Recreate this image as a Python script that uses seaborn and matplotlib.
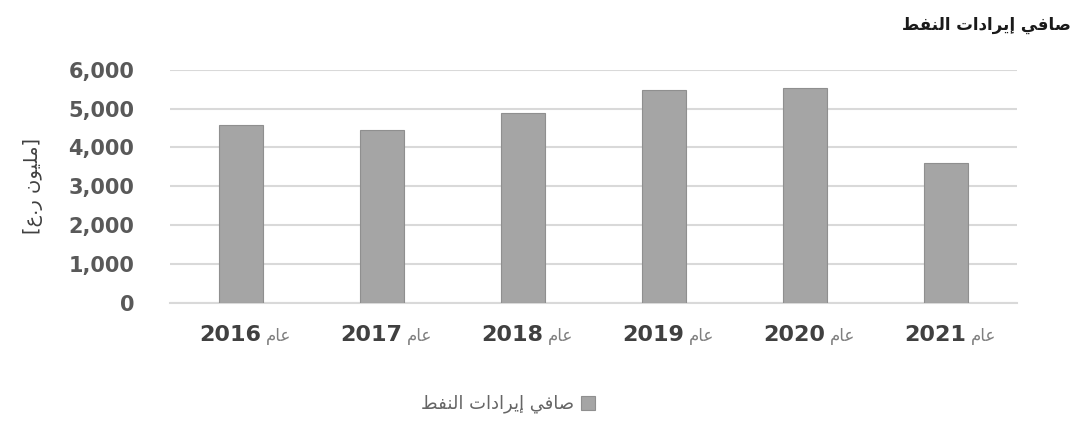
import matplotlib
matplotlib.use("Agg")
import matplotlib.pyplot as plt
import matplotlib.transforms as mtransforms
import seaborn as sns
import pandas as pd
from matplotlib.ticker import FuncFormatter

# ---------------- data ----------------
years = ["2016", "2017", "2018", "2019", "2020", "2021"]
values = [4570, 4440, 4880, 5470, 5530, 3590]
title_text = "صافي إيرادات النفط"
legend_text = "صافي إيرادات النفط"
ylabel_text = "[مليون ر.ع]"
year_word = "عام"
yticks = [0, 1000, 2000, 3000, 4000, 5000, 6000]

# ------------- minimal Arabic shaping (presentation forms) -------------
FORMS = {
    'ا': (0xFE8D, 0xFE8E, None, None), 'أ': (0xFE83, 0xFE84, None, None),
    'إ': (0xFE87, 0xFE88, None, None), 'آ': (0xFE81, 0xFE82, None, None),
    'ب': (0xFE8F, 0xFE90, 0xFE91, 0xFE92), 'ت': (0xFE95, 0xFE96, 0xFE97, 0xFE98),
    'ث': (0xFE99, 0xFE9A, 0xFE9B, 0xFE9C), 'ج': (0xFE9D, 0xFE9E, 0xFE9F, 0xFEA0),
    'ح': (0xFEA1, 0xFEA2, 0xFEA3, 0xFEA4), 'خ': (0xFEA5, 0xFEA6, 0xFEA7, 0xFEA8),
    'د': (0xFEA9, 0xFEAA, None, None), 'ذ': (0xFEAB, 0xFEAC, None, None),
    'ر': (0xFEAD, 0xFEAE, None, None), 'ز': (0xFEAF, 0xFEB0, None, None),
    'س': (0xFEB1, 0xFEB2, 0xFEB3, 0xFEB4), 'ش': (0xFEB5, 0xFEB6, 0xFEB7, 0xFEB8),
    'ص': (0xFEB9, 0xFEBA, 0xFEBB, 0xFEBC), 'ض': (0xFEBD, 0xFEBE, 0xFEBF, 0xFEC0),
    'ط': (0xFEC1, 0xFEC2, 0xFEC3, 0xFEC4), 'ظ': (0xFEC5, 0xFEC6, 0xFEC7, 0xFEC8),
    'ع': (0xFEC9, 0xFECA, 0xFECB, 0xFECC), 'غ': (0xFECD, 0xFECE, 0xFECF, 0xFED0),
    'ف': (0xFED1, 0xFED2, 0xFED3, 0xFED4), 'ق': (0xFED5, 0xFED6, 0xFED7, 0xFED8),
    'ك': (0xFED9, 0xFEDA, 0xFEDB, 0xFEDC), 'ل': (0xFEDD, 0xFEDE, 0xFEDF, 0xFEE0),
    'م': (0xFEE1, 0xFEE2, 0xFEE3, 0xFEE4), 'ن': (0xFEE5, 0xFEE6, 0xFEE7, 0xFEE8),
    'ه': (0xFEE9, 0xFEEA, 0xFEEB, 0xFEEC), 'و': (0xFEED, 0xFEEE, None, None),
    'ى': (0xFEEF, 0xFEF0, None, None), 'ي': (0xFEF1, 0xFEF2, 0xFEF3, 0xFEF4),
    'ة': (0xFE93, 0xFE94, None, None),
}
MIRROR = {'(': ')', ')': '(', '[': ']', ']': '['}


def shape(text):
    out = []
    n = len(text)
    for i, ch in enumerate(text):
        if ch not in FORMS:
            out.append(ch)
            continue
        iso, fin, ini, med = FORMS[ch]
        prev = text[i - 1] if i > 0 else ''
        nxt = text[i + 1] if i + 1 < n else ''
        jp = prev in FORMS and FORMS[prev][2] is not None
        jn = ini is not None and nxt in FORMS
        if jp and jn:
            cp = med
        elif jp:
            cp = fin
        elif jn:
            cp = ini
        else:
            cp = iso
        out.append(chr(cp))
    return ''.join(out)


def rtl(text):
    s = shape(text)
    runs = []
    cur = ''
    cur_ltr = None
    for ch in s:
        is_ltr = ch.isascii() and (ch.isalnum() or ch in ',')
        if cur and is_ltr != cur_ltr:
            runs.append((cur, cur_ltr))
            cur = ''
        cur += ch
        cur_ltr = is_ltr
    if cur:
        runs.append((cur, cur_ltr))
    res = []
    for txt, ltr in reversed(runs):
        if ltr:
            res.append(txt)
        else:
            res.append(''.join(MIRROR.get(c, c) for c in reversed(txt)))
    return ''.join(res)


df = pd.DataFrame({"year": years, "value": values})

# ---------------- plot ----------------
sns.set_theme(style="white")
plt.rcParams['font.family'] = ['DejaVu Sans']

fig = plt.figure(figsize=(10.78, 4.21), dpi=100)
ax = fig.add_axes([0.158, 0.281, 0.785, 0.553])

sns.barplot(data=df, x="year", y="value", order=years, color="#a5a5a5",
            saturation=1, width=0.31, edgecolor="#8f8f8f", linewidth=0.8,
            label=rtl(legend_text), ax=ax, zorder=3)

ax.set_ylim(0, 6000)
ax.set_xlim(-0.5, 5.5)
ax.set_yticks(yticks)
ax.yaxis.set_major_formatter(FuncFormatter(lambda v, p: f"{int(v):,}"))
ax.grid(axis="y", color="#d9d9d9", linewidth=1.5, zorder=0)
ax.set_axisbelow(True)
for s in ["top", "right", "left"]:
    ax.spines[s].set_visible(False)
ax.spines["bottom"].set_color("#d9d9d9")
ax.spines["bottom"].set_linewidth(1.5)
ax.tick_params(axis="both", length=0)
ax.tick_params(axis="y", labelsize=15, labelcolor="#595959", pad=26)
ax.tick_params(axis="x", labelsize=16, labelcolor="#404040", pad=16)
for t in ax.get_yticklabels() + ax.get_xticklabels():
    t.set_fontweight("bold")

# year labels end just right of the bar centre; the word "عام" follows them
shift = mtransforms.ScaledTranslation(20 / 100, 0, fig.dpi_scale_trans)
for t in ax.get_xticklabels():
    t.set_horizontalalignment("right")
    t.set_transform(t.get_transform() + shift)
word = rtl(year_word)
for i in range(len(years)):
    ax.annotate(word, xy=(i, 0), xycoords=("data", "axes fraction"),
                xytext=(25, -33), textcoords="offset pixels",
                ha="left", va="center", fontsize=12, color="#7f7f7f")

ax.set_xlabel("")
ax.set_ylabel(rtl(ylabel_text), fontsize=14, color="#404040", labelpad=18)

leg = fig.legend(loc="center", bbox_to_anchor=(508 / 1078, 0.04),
                 bbox_transform=fig.transFigure, frameon=False,
                 markerfirst=False, fontsize=13, handlelength=0.8,
                 handleheight=0.8, handletextpad=0.4)
if ax.get_legend() is not None:
    ax.get_legend().remove()
for t in leg.get_texts():
    t.set_color("#666666")

fig.text(0.993, 0.94, rtl(title_text), ha="right", va="center", fontsize=12,
         fontweight="bold", color="#1a1a1a")

fig.savefig("out.png", dpi=100)
